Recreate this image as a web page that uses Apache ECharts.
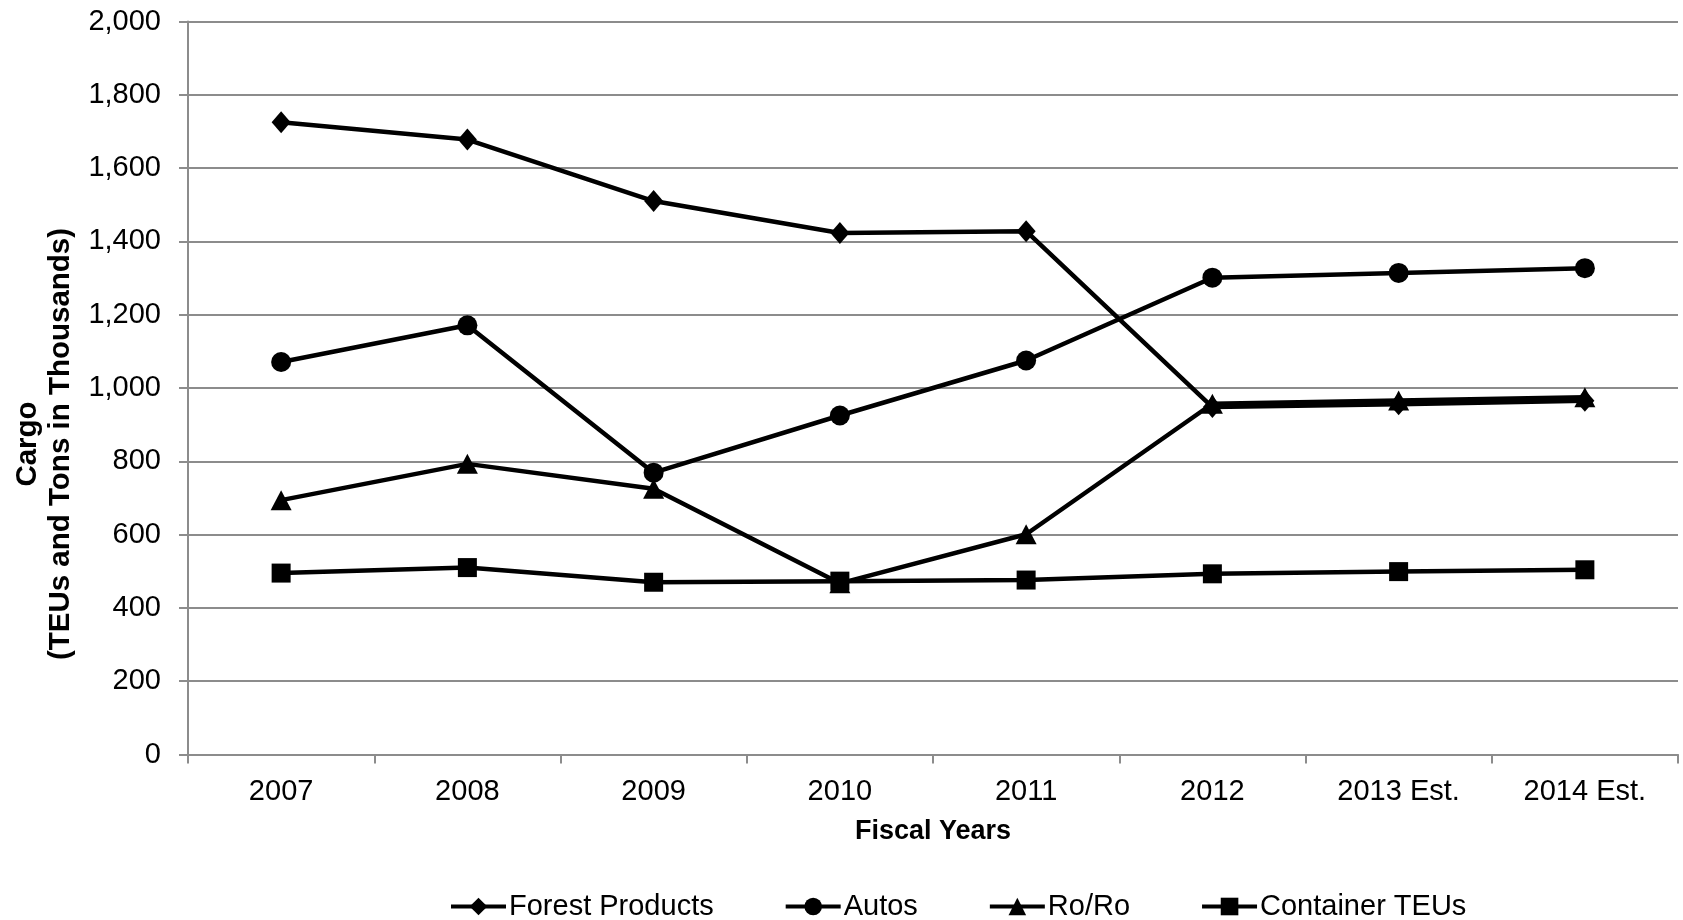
<!DOCTYPE html>
<html>
<head>
<meta charset="utf-8">
<script src="https://cdn.jsdelivr.net/npm/echarts@6/dist/echarts.min.js"></script>
<style>
  html, body { margin: 0; padding: 0; background: #ffffff; }
  #chart { width: 1683px; height: 920px; }
</style>
</head>
<body>
<div id="chart"></div>
<script>
// Fiscal-year cargo volumes (thousands of TEUs / tons)
const categories = ['2007', '2008', '2009', '2010', '2011', '2012', '2013 Est.', '2014 Est.'];
const forestProducts = [1725, 1678, 1510, 1423, 1428, 948, 956, 965];
const autos          = [1071, 1171, 769, 925, 1075, 1301, 1314, 1327];
const roRo           = [694, 793, 725, 467, 601, 957, 966, 975];
const containerTEUs  = [495, 510, 470, 473, 476, 493, 499, 504];
const yTicks = { min: 0, max: 2000, interval: 200 };

const FONT = 'Liberation Sans, Arial, sans-serif';
const GRID_GRAY = '#8c8c8c';

function lineSeries(name, data, symbol, size) {
  return {
    name: name,
    type: 'line',
    data: data,
    symbol: symbol,
    symbolSize: size,
    showSymbol: true,
    lineStyle: { color: '#000', width: 4.5 },
    itemStyle: { color: '#000', borderWidth: 0 },
    emphasis: { disabled: true },
    animation: false
  };
}

const chart = echarts.init(document.getElementById('chart'), null, { renderer: 'canvas' });
chart.setOption({
  backgroundColor: '#ffffff',
  textStyle: { fontFamily: FONT, color: '#000' },
  grid: {
    left: 188, right: 5, top: 21.5, bottom: 165.5,
    containLabel: false,
    outerBoundsMode: 'none'
  },
  legend: {
    left: 444,
    top: 887,
    itemWidth: 55,
    itemHeight: 22,
    itemGap: 70,
    lineStyle: { width: 4 },
    textStyle: { fontFamily: FONT, fontSize: 29, color: '#000', padding: [0, 0, 0, -2] },
    data: ['Forest Products', 'Autos', 'Ro/Ro', 'Container TEUs']
  },
  xAxis: {
    type: 'category',
    data: categories,
    boundaryGap: true,
    name: 'Fiscal Years',
    nameLocation: 'middle',
    nameGap: 64,
    nameTextStyle: { fontFamily: FONT, fontSize: 27, fontWeight: 'bold', color: '#000' },
    axisLine: { lineStyle: { color: GRID_GRAY, width: 2 } },
    axisTick: { show: true, alignWithLabel: false, length: 9, lineStyle: { color: GRID_GRAY, width: 2 } },
    axisLabel: { fontFamily: FONT, fontSize: 29, color: '#000', margin: 23 },
    splitLine: { show: false }
  },
  yAxis: {
    type: 'value',
    min: yTicks.min,
    max: yTicks.max,
    interval: yTicks.interval,
    name: 'Cargo\n(TEUs and Tons in Thousands)',
    nameLocation: 'middle',
    nameGap: 101,
    nameRotate: 90,
    nameTextStyle: {
      fontFamily: FONT, fontSize: 29.5, fontWeight: 'bold', color: '#000', lineHeight: 33,
      padding: [0, 112, 0, 0]
    },
    axisLine: { show: true, lineStyle: { color: GRID_GRAY, width: 2 } },
    axisTick: { show: true, length: 9, lineStyle: { color: GRID_GRAY, width: 2 } },
    axisLabel: {
      fontFamily: FONT, fontSize: 29, color: '#000', margin: 27,
      formatter: v => v.toLocaleString('en-US')
    },
    splitLine: { show: true, lineStyle: { color: GRID_GRAY, width: 2 } }
  },
  series: [
    lineSeries('Forest Products', forestProducts, 'diamond', [19, 22]),
    lineSeries('Autos', autos, 'circle', 20),
    lineSeries('Ro/Ro', roRo, 'triangle', [21, 20]),
    lineSeries('Container TEUs', containerTEUs, 'rect', 19)
  ]
});
</script>
</body>
</html>
